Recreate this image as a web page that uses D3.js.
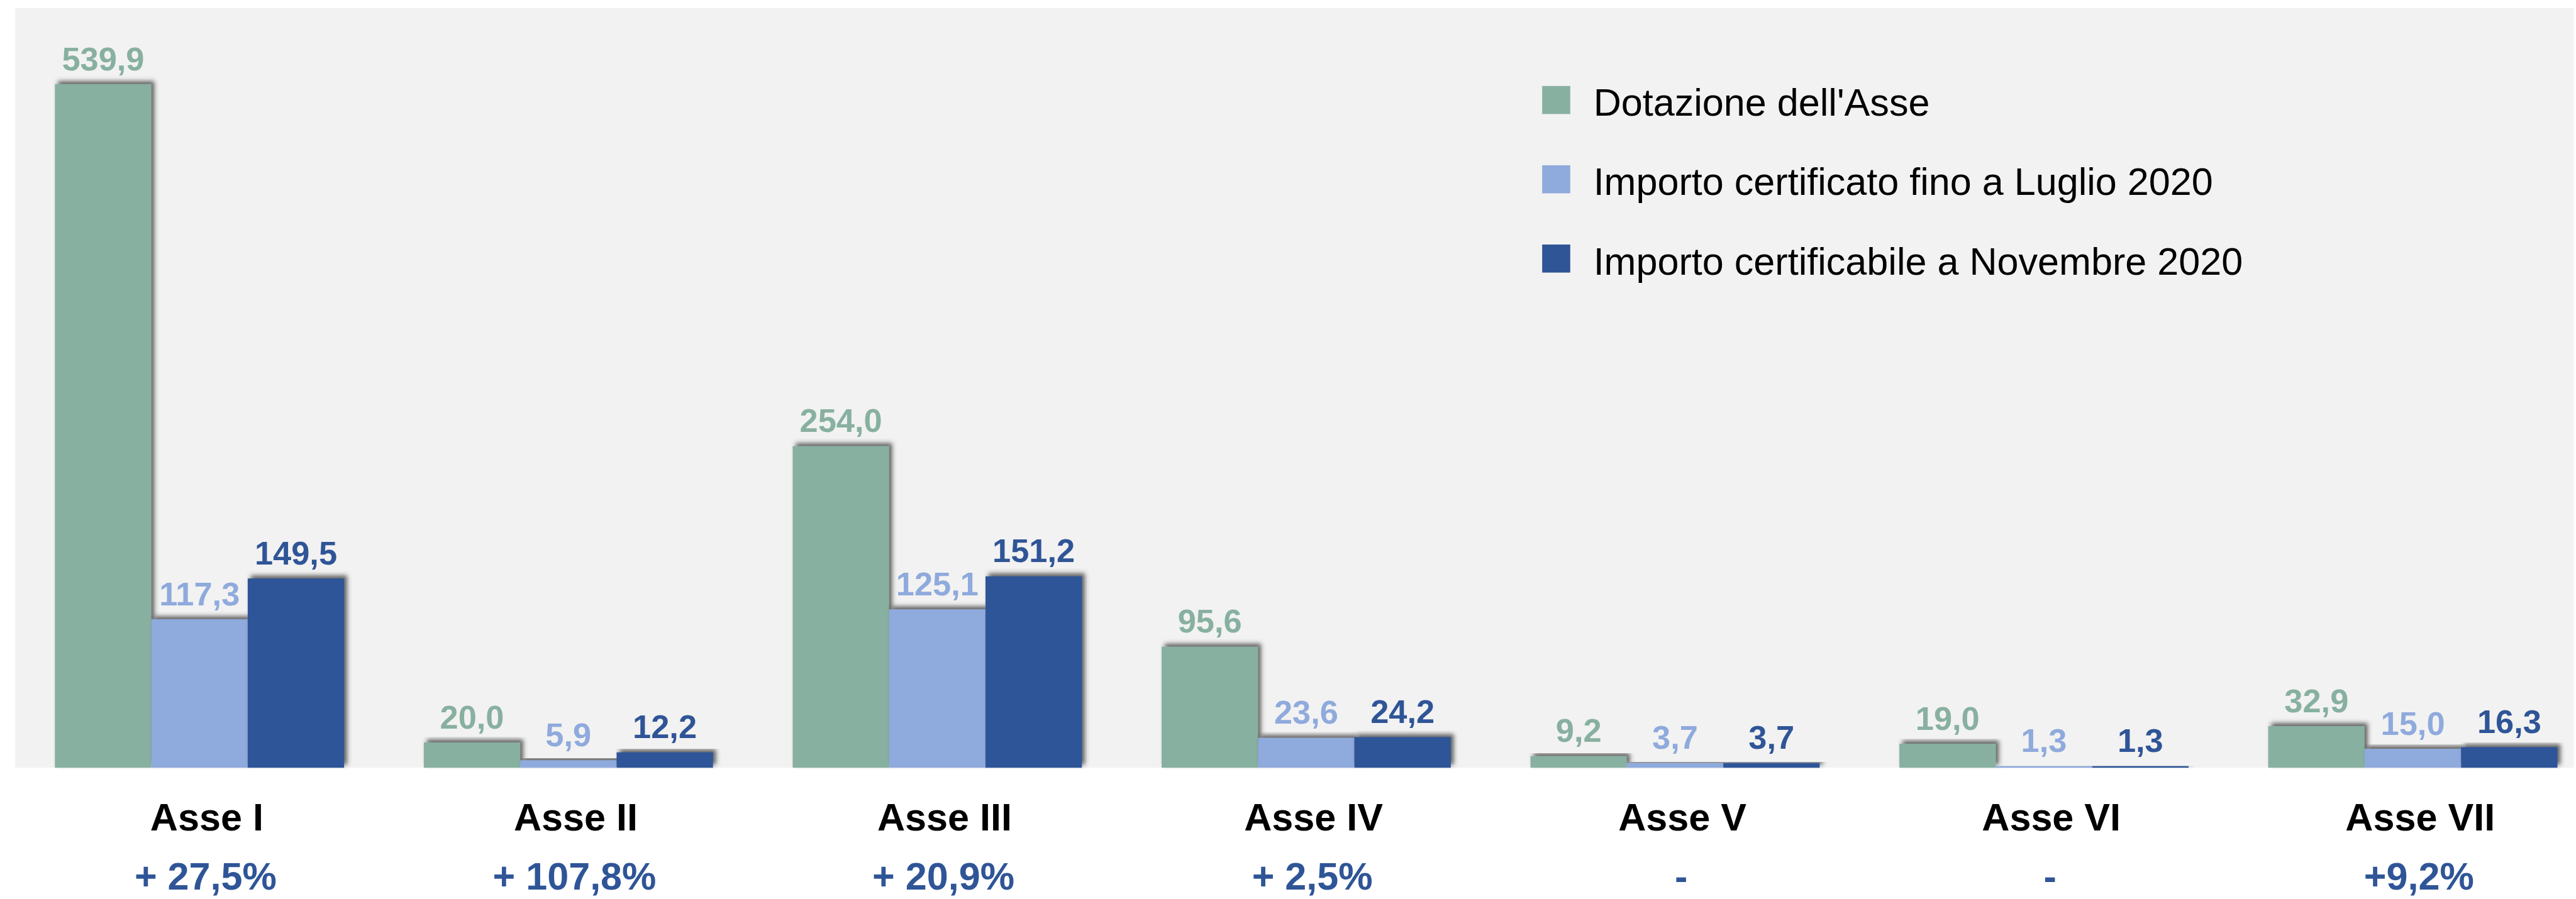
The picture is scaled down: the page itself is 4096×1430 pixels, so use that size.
<!DOCTYPE html>
<html>
<head>
<meta charset="utf-8">
<script src="https://cdn.jsdelivr.net/npm/d3@7"></script>
<style>
  body { margin: 0; background: #fff; }
  svg text { font-family: "Liberation Sans", Arial, sans-serif; }
</style>
</head>
<body>
<div class="chart"></div>
<script>
var categories = ["Asse I", "Asse II", "Asse III", "Asse IV", "Asse V", "Asse VI", "Asse VII"];
var seriesNames = ["Dotazione dell'Asse", "Importo certificato fino a Luglio 2020", "Importo certificabile a Novembre 2020"];
var dotazione = [539.9, 20.0, 254.0, 95.6, 9.2, 19.0, 32.9];
var luglio = [117.3, 5.9, 125.1, 23.6, 3.7, 1.3, 15.0];
var novembre = [149.5, 12.2, 151.2, 24.2, 3.7, 1.3, 16.3];
var variazioni = ["+ 27,5%", "+ 107,8%", "+ 20,9%", "+ 2,5%", "-", "-", "+9,2%"];
var colors = ["#88b0a0", "#8faadc", "#2f5597"];

// everything is laid out in reference pixels, then shrunk
var k = 0.97;
var W = 4219, H = 1473;
var baseline = 1259, topY = 138;

var svg = d3.select('div.chart').append('svg')
    .attr('width', 4096)
    .attr('height', 1430);

var defs = svg.append('defs');
var f = defs.append('filter').attr('id', 'shadow')
    .attr('x', '-20%').attr('y', '-20%').attr('width', '140%').attr('height', '140%');
f.append('feDropShadow')
    .attr('dx', 5).attr('dy', -5)
    .attr('stdDeviation', 4)
    .attr('flood-color', '#333')
    .attr('flood-opacity', 0.75);

var g = svg.append('g').attr('transform', 'scale(' + k + ')');

g.append('rect')
    .attr('x', 25).attr('y', 13)
    .attr('width', W - 25).attr('height', baseline - 13)
    .attr('fill', '#f2f2f2');

var series = [dotazione, luglio, novembre];

var x0 = d3.scaleBand()
    .domain(categories)
    .range([90 - 0.108 * 604.7, 90 - 0.108 * 604.7 + 7 * 604.7])
    .paddingInner(0.216)
    .paddingOuter(0.108);

var x1 = d3.scaleBand()
    .domain([0, 1, 2])
    .range([0, x0.bandwidth()]);

var yScale = d3.scaleLinear()
    .domain([0, d3.max(dotazione)])
    .range([baseline, topY]);

var groups = g.selectAll('g.group')
    .data(categories)
    .enter()
    .append('g')
    .attr('class', 'group')
    .attr('transform', function (d) { return 'translate(' + x0(d) + ',0)'; });

groups.selectAll('rect.bar')
    .data(function (d, i) { return series.map(function (s, j) { return {j: j, v: s[i]}; }); })
    .enter()
    .append('rect')
    .attr('class', 'bar')
    .attr('x', function (d) { return x1(d.j); })
    .attr('width', x1.bandwidth())
    .attr('y', function (d) { return yScale(d.v); })
    .attr('height', function (d) { return baseline - yScale(d.v); })
    .attr('fill', function (d) { return colors[d.j]; })
    .attr('filter', 'url(#shadow)');

groups.selectAll('text.val')
    .data(function (d, i) { return series.map(function (s, j) { return {j: j, v: s[i]}; }); })
    .enter()
    .append('text')
    .attr('class', 'val')
    .attr('x', function (d) { return x1(d.j) + x1.bandwidth() / 2; })
    .attr('y', function (d) { return yScale(d.v) - 23; })
    .attr('text-anchor', 'middle')
    .attr('font-size', 54)
    .attr('font-weight', 'bold')
    .attr('fill', function (d) { return colors[d.j]; })
    .text(function (d) { return d.v.toFixed(1).replace('.', ','); });

// category labels and change rates
var xAxis = d3.axisBottom(x0).tickSize(0).tickPadding(0);
var axisG = g.append('g')
    .attr('transform', 'translate(12,' + 1362 + ')')
    .call(xAxis);
axisG.select('.domain').remove();
axisG.selectAll('text')
    .attr('dy', 0)
    .attr('font-size', 63)
    .attr('font-weight', 'bold')
    .attr('font-family', '"Liberation Sans", Arial, sans-serif')
    .attr('fill', '#000');

g.selectAll('text.pct')
    .data(variazioni)
    .enter()
    .append('text')
    .attr('class', 'pct')
    .attr('x', function (d, i) { return x0(categories[i]) + x0.bandwidth() / 2 + 10; })
    .attr('y', 1459)
    .attr('text-anchor', 'middle')
    .attr('font-size', 63)
    .attr('font-weight', 'bold')
    .attr('fill', '#2f5597')
    .text(function (d) { return d; });

// legend
var legend = g.selectAll('g.legend')
    .data(seriesNames)
    .enter()
    .append('g')
    .attr('class', 'legend')
    .attr('transform', function (d, i) { return 'translate(2528,' + (141 + i * 130) + ')'; });
legend.append('rect')
    .attr('width', 46).attr('height', 46)
    .attr('fill', function (d, i) { return colors[i]; });
legend.append('text')
    .attr('x', 84).attr('y', 49)
    .attr('font-size', 63)
    .attr('fill', '#000')
    .text(function (d) { return d; });
</script>
</body>
</html>
